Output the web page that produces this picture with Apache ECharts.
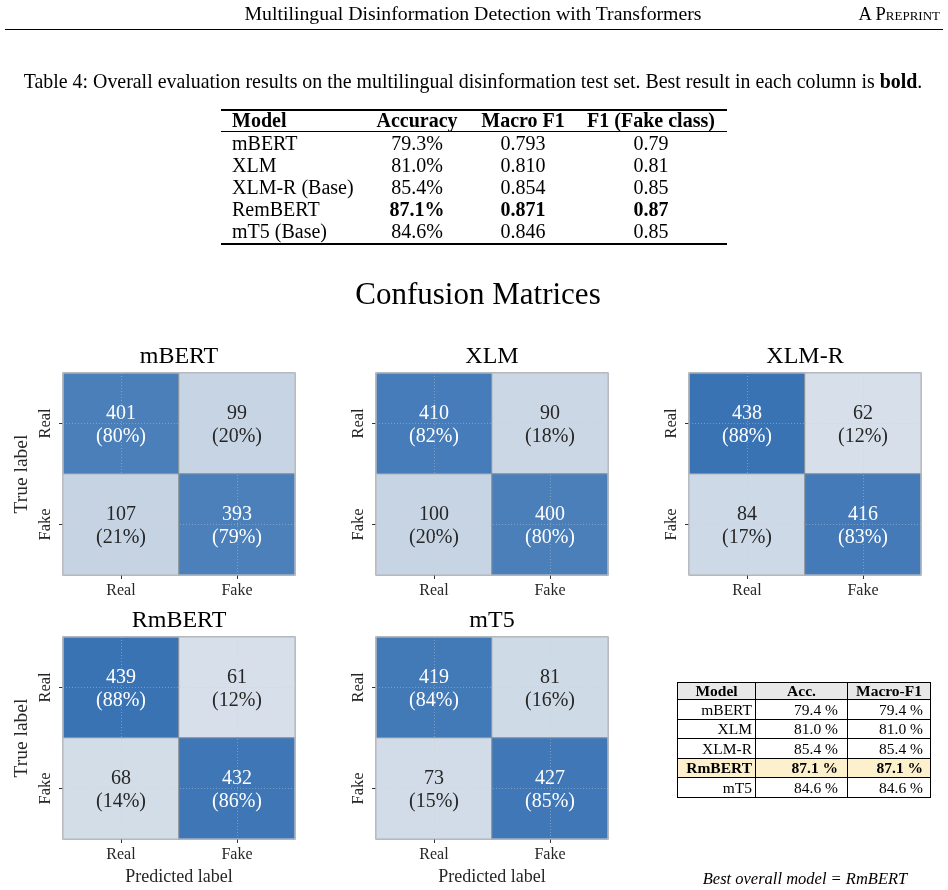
<!DOCTYPE html>
<html>
<head>
<meta charset="utf-8">
<script src="https://cdn.jsdelivr.net/npm/echarts@6/dist/echarts.min.js"></script>
<style>
body { margin: 0; background: #fff; }
#page { position: relative; width: 948px; height: 890px; overflow: hidden;
        font-family: 'Liberation Serif', 'Times New Roman', serif; color: #000; }
#chart { position: absolute; left: 0; top: 0; width: 948px; height: 890px; }
.abs { position: absolute; white-space: nowrap; line-height: 1; z-index: 2; }
.rule { position: absolute; background: #000; z-index: 2; }
#summary { position: absolute; left: 677px; top: 682px; border-collapse: collapse;
           table-layout: fixed; font-size: 15.5px; z-index: 2; }
#summary td, #summary th { border: 1px solid #000; padding: 0; line-height: 1; }
#summary th { background: #e8e8e8; text-align: center; height: 16px; }
#summary td { height: 18.5px; text-align: right; }
#summary tr.best td { background: #fdf0cc; font-weight: bold; }
</style>
</head>
<body>
<div id="page">
  <div id="chart"></div>
</div>
<script>
// ---- data ----
const classLabels = ['Real', 'Fake'];
const panelTitles = ['mBERT', 'XLM', 'XLM-R', 'RmBERT', 'mT5'];

// counts row-major: [true Real->pred Real, true Real->pred Fake, true Fake->pred Real, true Fake->pred Fake]
const countsMBERT  = [401, 99, 107, 393];
const countsXLM    = [410, 90, 100, 400];
const countsXLMR   = [438, 62, 84, 416];
const countsRmBERT = [439, 61, 68, 432];
const countsMT5    = [419, 81, 73, 427];

// row percentages as printed
const pctMBERT  = [80, 20, 21, 79];
const pctXLM    = [82, 18, 20, 80];
const pctXLMR   = [88, 12, 17, 83];
const pctRmBERT = [88, 12, 14, 86];
const pctMT5    = [84, 16, 15, 85];

// Table 4
const t4Models   = ['mBERT', 'XLM', 'XLM-R (Base)', 'RemBERT', 'mT5 (Base)'];
const t4Accuracy = [79.3, 81.0, 85.4, 87.1, 84.6];
const t4MacroF1  = [0.793, 0.810, 0.854, 0.871, 0.846];
const t4F1Fake   = [0.79, 0.81, 0.85, 0.87, 0.85];

// small summary table
const sumModels  = ['mBERT', 'XLM', 'XLM-R', 'RmBERT', 'mT5'];
const sumAcc     = [79.4, 81.0, 85.4, 87.1, 84.6];
const sumMacroF1 = [79.4, 81.0, 85.4, 87.1, 84.6];
const bestIdx = 3;

// ---- page text (html) ----
const page = document.getElementById('page');
function put(html, x, y, o) {
  o = o || {};
  const d = document.createElement('div');
  d.className = 'abs';
  d.innerHTML = html;
  d.style.left = x + 'px';
  d.style.top = y + 'px';
  d.style.fontSize = (o.size || 20) + 'px';
  if (o.bold) d.style.fontWeight = 'bold';
  if (o.italic) d.style.fontStyle = 'italic';
  if (o.caps) d.style.fontVariant = 'small-caps';
  const tx = o.align === 'left' ? '0' : o.align === 'right' ? '-100%' : '-50%';
  d.style.transform = 'translate(' + tx + ', -50%)';
  page.appendChild(d);
}
function rule(x, y, w, h) {
  const r = document.createElement('div');
  r.className = 'rule';
  r.style.left = x + 'px'; r.style.top = y + 'px';
  r.style.width = w + 'px'; r.style.height = h + 'px';
  page.appendChild(r);
}

put('Multilingual Disinformation Detection with Transformers', 473, 14, {size: 19.8});
put('A Preprint', 940, 14, {size: 18.5, caps: true, align: 'right'});
rule(5, 29, 938, 1);

put('Table 4: Overall evaluation results on the multilingual disinformation test set. Best result in each column is <b>bold</b>.', 473, 82, {size: 19.9});

rule(221, 109, 506, 1.5);
rule(221, 131, 506, 0.8);
rule(221, 243, 506, 1.5);
put('Model', 232, 120, {bold: true, align: 'left'});
put('Accuracy', 417, 120, {bold: true});
put('Macro F1', 523, 120, {bold: true});
put('F1 (Fake class)', 651, 120, {bold: true});
t4Models.forEach(function (m, i) {
  const y = 143 + i * 22;
  const b = i === bestIdx;
  put(m, 232, y, {align: 'left'});
  put(t4Accuracy[i].toFixed(1) + '%', 417, y, {bold: b});
  put(t4MacroF1[i].toFixed(3), 523, y, {bold: b});
  put(t4F1Fake[i].toFixed(2), 651, y, {bold: b});
});

// summary table
const tbl = document.createElement('table');
tbl.id = 'summary';
let html = '<colgroup><col style="width:78px"><col style="width:92px"><col style="width:83px"></colgroup>';
html += '<tr><th>Model</th><th>Acc.</th><th>Macro-F1</th></tr>';
sumModels.forEach(function (m, i) {
  html += '<tr' + (i === bestIdx ? ' class="best"' : '') + '>' +
    '<td style="padding-right:3px">' + m + '</td>' +
    '<td style="padding-right:9px">' + sumAcc[i].toFixed(1) + ' %</td>' +
    '<td style="padding-right:7px">' + sumMacroF1[i].toFixed(1) + ' %</td></tr>';
});
tbl.innerHTML = html;
page.appendChild(tbl);

put('Best overall model = RmBERT', 805, 879, {italic: true, size: 16.5});

// ---- confusion matrices (echarts) ----
const panelCounts = [countsMBERT, countsXLM, countsXLMR, countsRmBERT, countsMT5];
const panelPct = [pctMBERT, pctXLM, pctXLMR, pctRmBERT, pctMT5];
const panelPos = [[63, 373], [376, 373], [689, 373], [63, 637], [376, 637]];
const plotW = 232, plotH = 202;
const serif = 'Liberation Serif';

const chart = echarts.init(document.getElementById('chart'));
const grids = [], xAxes = [], yAxes = [], series = [], graphics = [];

graphics.push({
  type: 'text', x: 478, y: 296,
  style: { text: 'Confusion Matrices', font: '31px "Liberation Serif"', fill: '#000',
           align: 'center', verticalAlign: 'middle', textAlign: 'center', textVerticalAlign: 'middle' }
});

panelTitles.forEach(function (name, i) {
  const left = panelPos[i][0], top = panelPos[i][1];
  const bottomRow = i >= 3;
  const leftCol = i === 0 || i === 3;
  grids.push({ left: left, top: top, width: plotW, height: plotH, show: true,
               borderColor: '#c3c7cc', borderWidth: 1.2, backgroundColor: 'rgba(0,0,0,0)', z: 5 });
  xAxes.push({
    gridIndex: i, type: 'category', data: classLabels, position: 'bottom', z: 4,
    axisLine: { show: false },
    axisTick: { show: true, alignWithLabel: true, length: 4, lineStyle: { color: '#333' } },
    axisLabel: { fontFamily: serif, fontSize: 16, color: '#262626', margin: 8 },
    splitLine: { show: true, alignWithLabel: true,
                 lineStyle: { color: 'rgba(205,205,205,0.55)', type: [1, 2], width: 0.8 } },
    name: bottomRow ? 'Predicted label' : '', nameLocation: 'middle', nameGap: 29,
    nameTextStyle: { fontFamily: serif, fontSize: 18, color: '#262626' }
  });
  yAxes.push({
    gridIndex: i, type: 'category', data: classLabels, inverse: true, z: 4,
    axisLine: { show: false },
    axisTick: { show: true, alignWithLabel: true, length: 4, lineStyle: { color: '#333' } },
    axisLabel: { fontFamily: serif, fontSize: 16.5, color: '#262626', margin: 9, rotate: 90 },
    splitLine: { show: true, alignWithLabel: true,
                 lineStyle: { color: 'rgba(205,205,205,0.55)', type: [1, 2], width: 0.8 } },
    name: leftCol ? 'True label' : '', nameLocation: 'middle', nameGap: 31,
    nameTextStyle: { fontFamily: serif, fontSize: 19.5, color: '#262626' }
  });
  const cnt = panelCounts[i], pct = panelPct[i];
  const data = [];
  for (let r = 0; r < 2; r++) {
    for (let c = 0; c < 2; c++) {
      data.push([c, r, cnt[r * 2 + c], pct[r * 2 + c]]);
    }
  }
  series.push({
    type: 'heatmap', xAxisIndex: i, yAxisIndex: i, data: data,
    itemStyle: { borderColor: '#8e9398', borderWidth: 1 },
    emphasis: { disabled: true },
    label: {
      show: true,
      offset: [0, 2],
      formatter: function (p) {
        const t = p.data[3] > 50 ? 'w' : 'k';
        return '{' + t + '|' + p.data[2] + '}\n{' + t + '|(' + p.data[3] + '%)}';
      },
      rich: {
        w: { color: '#ffffff', fontFamily: serif, fontSize: 20, lineHeight: 23 },
        k: { color: '#262626', fontFamily: serif, fontSize: 20, lineHeight: 23 }
      }
    }
  });
  graphics.push({
    type: 'text', x: left + plotW / 2, y: top - 16,
    style: { text: name, font: '24px "Liberation Serif"', fill: '#000',
             align: 'center', verticalAlign: 'middle', textAlign: 'center', textVerticalAlign: 'middle' }
  });
});

chart.setOption({
  backgroundColor: '#fff',
  animation: false,
  grid: grids,
  xAxis: xAxes,
  yAxis: yAxes,
  visualMap: {
    type: 'continuous', show: false, min: 0, max: 100, dimension: 3,
    seriesIndex: [0, 1, 2, 3, 4],
    inRange: { color: ['#f0f1f2', '#2162ac'] }
  },
  graphic: graphics,
  series: series
});
</script>
</body>
</html>
